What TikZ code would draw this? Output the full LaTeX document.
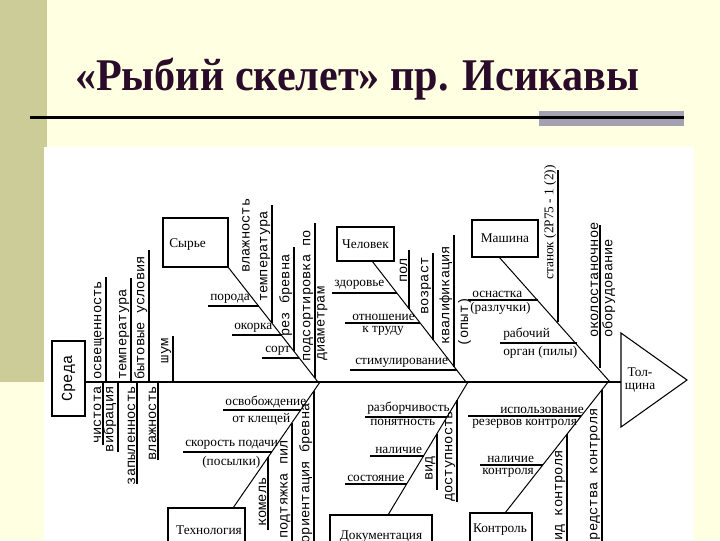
\documentclass[tikz,border=0pt]{standalone}
\usepackage{fontspec}
\setmainfont{Liberation Serif}
\newfontfamily\monof{Liberation Mono}
\definecolor{bgy}{RGB}{255,255,226}
\definecolor{khaki}{RGB}{204,204,153}
\definecolor{barg}{RGB}{163,161,178}
\definecolor{titc}{RGB}{42,12,42}
\begin{document}
\begin{tikzpicture}[x=0.75pt,y=-0.75pt,
  lbl/.style={font=\fontsize{10}{11}\selectfont, inner sep=0pt},
  vlbl/.style={font=\monof\fontsize{10.3}{11}\selectfont, inner sep=0pt, rotate=90},
  vser/.style={font=\fontsize{10}{11}\selectfont, inner sep=0pt, rotate=90},
  bone/.style={line width=0.75pt},
  sub/.style={line width=0.9pt},
  thsub/.style={line width=1.4pt},
  catbox/.style={draw, line width=0.9pt, fill=white, inner sep=0pt}
]
\useasboundingbox (0,0) rectangle (720,540);
\clip (0,0) rectangle (720,540);
\fill[bgy] (0,0) rectangle (720,540);
\fill[khaki] (0,0) rectangle (47,382);
\fill[white] (44,147) rectangle (694,540);
% title
\node[font=\bfseries\fontsize{34}{36}\selectfont, text=titc, anchor=base, inner sep=0pt, xscale=0.93] (title) at (357,90) {«Рыбий скелет» пр. Исикавы};
\fill[barg] (539,111) rectangle (684,126);
\draw[line width=2pt] (30,117.5) -- (684,117.5);

% spine and head
\coordinate (spL) at (85,382);
\coordinate (spR) at (621,382);
\draw[line width=2.2pt] (spL) -- (spR);
\draw[line width=0.8pt] (621,333) coordinate (h1) -- (687,380) coordinate (h2) -- (621,427) coordinate (h3) -- cycle;
\node[lbl] (tol) at (640,372) {Тол-};
\node[lbl] (sh) at (640,388) {щина};

% ===== Среда
\draw[catbox] (52,341) rectangle (85,416);
\node[vlbl, font=\monof\fontsize{11.5}{12}\selectfont] (sreda) at (68.5,378.5) {Среда};
\draw[sub] (106,277) -- (106,382);
\node[vlbl, anchor=south west] (s1) at (104.5,380) {освещенность};
\draw[sub] (131,278) -- (131,382);
\node[vlbl, anchor=south west] (s2) at (129.5,380) {температура};
\draw[sub] (149,250) -- (149,382);
\node[vlbl, anchor=south west] (s3) at (147.5,380) {бытовые условия};
\draw[sub] (173,336) -- (173,382);
\node[vlbl, anchor=south east] (s4) at (171.5,338) {шум};
\draw[sub] (103,382) -- (103,445);
\node[vlbl, anchor=south east] (s5) at (101.5,386) {чистота};
\draw[sub] (118,382) -- (118,452);
\node[vlbl, anchor=south east] (s6) at (116.5,386) {вибрация};
\draw[sub] (137,382) -- (137,484);
\node[vlbl, anchor=south east] (s7) at (135.5,386) {запыленность};
\draw[sub] (158,382) -- (158,460);
\node[vlbl, anchor=south east] (s8) at (156.5,386) {влажность};

% ===== Сырье
\draw[catbox] (163,218) rectangle (228,267);
\node[lbl, anchor=west] (syr) at (169,244) {Сырье};
\coordinate (syrJ) at (318,382);
\draw[bone] (228,267) -- (syrJ);
\draw[sub] (208,306) -- (259,306);
\node[lbl, anchor=south west] (r1) at (210,304) {порода};
\draw[sub] (232,335) -- (281.5,335);
\node[lbl, anchor=south west] (r2) at (234,333) {окорка};
\draw[sub] (262,358) -- (299,358);
\node[lbl, anchor=south west] (r3) at (265,356) {сорт};
\node[vlbl, anchor=south west] (r4) at (250,273) {влажность};
\draw[sub] (272,205) -- (272,323);
\node[vlbl, anchor=south west] (r5) at (270.5,302) {температура};
\draw[sub] (294,247) -- (294,351);
\node[vlbl, anchor=south west] (r6) at (292.5,337) {рез бревна};
\draw[sub] (315,223) -- (315,378);
\node[vlbl, anchor=south west] (r7) at (313.5,362) {подсортировка по};
\node[vlbl, anchor=north west] (r8) at (317,361) {диаметрам};

% ===== Человек
\draw[catbox] (337,227) rectangle (394,261);
\node[lbl] (chel) at (365.5,244) {Человек};
\coordinate (chJ) at (466,382);
\draw[bone] (372,261) -- (chJ);
\draw[thsub] (332,293) -- (397,293);
\node[lbl, anchor=south west] (c1) at (334,290) {здоровье};
\draw[sub] (345,323) -- (420,323);
\node[lbl, anchor=south west] (c2) at (352,321) {отношение};
\node[lbl, anchor=north west] (c3) at (362,326) {к труду};
\draw[sub] (350,370) -- (457,370);
\node[lbl, anchor=south west] (c4) at (355,368) {стимулирование};
\draw[sub] (409,250) -- (409,308.6);
\node[vlbl, anchor=south east] (c5) at (407.5,258) {пол};
\draw[sub] (433,253) -- (433,339.5);
\node[vlbl, anchor=south east] (c6) at (431.5,257) {возраст};
\draw[sub] (454,235) -- (454,366.5);
\node[vlbl, anchor=south west] (c7) at (452.5,345) {квалификация};
\node[vlbl, anchor=north west] (c8) at (458,347) {(опыт)};

% ===== Машина
\draw[catbox] (472,220) rectangle (538,257);
\node[lbl] (mash) at (505,238.5) {Машина};
\coordinate (maJ) at (610,382);
\draw[bone] (499,257) -- (maJ);
\draw[sub] (468,300) -- (538,300);
\node[lbl, anchor=south west] (m1) at (472,298) {оснастка};
\node[lbl, anchor=north west] (m2) at (470,302) {(разлучки)};
\draw[thsub] (500,343) -- (577,343);
\node[lbl, anchor=south west] (m3) at (503,341) {рабочий};
\node[lbl, anchor=north west] (m4) at (503,346) {орган (пилы)};
\draw[sub] (558,170) -- (558,322);
\node[vser, anchor=south west] (m5) at (556.5,280) {станок (2Р75 - 1 (2))};
\draw[sub] (600,225) -- (600,368);
\node[vlbl, anchor=south west] (m6) at (598.5,338) {околостаночное};
\node[vlbl, anchor=north west] (m7) at (602,338) {оборудование};

% ===== Технология
\draw[catbox] (168,508) rectangle (245,560);
\node[lbl] (tech) at (209,530) {Технология};
\coordinate (teJ) at (320,382);
\draw[bone] (teJ) -- (233,508);
\draw[sub] (223,410) -- (300.7,410);
\node[lbl, anchor=south west] (t1) at (225,408) {освобождение};
\node[lbl, anchor=north west] (t2) at (232,413) {от клещей};
\draw[sub] (183,452) -- (271.7,452);
\node[lbl, anchor=south west] (t3) at (185,450) {скорость подачи};
\node[lbl, anchor=north west] (t4) at (202,456) {(посылки)};
\draw[sub] (268,457) -- (268,530);
\node[vlbl, anchor=south west] (t5) at (266.5,527) {комель};
\draw[sub] (292,423) -- (292,545);
\node[vlbl, anchor=south west] (t6) at (290.5,539) {подтяжка пил};
\draw[sub] (314,391) -- (314,545);
\node[vlbl, anchor=south east] (t7) at (312.5,403) {ориентация бревна};

% ===== Документация
\draw[catbox] (330,515) rectangle (432,560);
\node[lbl] (doc) at (381,537) {Документация};
\coordinate (doJ) at (468,382);
\draw[bone] (doJ) -- (388,515);
\draw[sub] (365,417) -- (447,417);
\node[lbl, anchor=south west] (d1) at (367,415) {разборчивость};
\node[lbl, anchor=north west] (d2) at (370,419) {понятность};
\draw[thsub] (370,456) -- (423.6,456);
\node[lbl, anchor=south west] (d3) at (375,454) {наличие};
\draw[sub] (345,484) -- (406.6,484);
\node[lbl, anchor=south west] (d4) at (347,482) {состояние};
\draw[sub] (437,433.7) -- (437,490);
\node[vlbl, anchor=south west] (d5) at (435.5,481) {вид};
\draw[sub] (457,400) -- (457,502);
\node[vlbl, anchor=south west] (d6) at (455.5,502) {доступность};

% ===== Контроль
\draw[catbox] (470,513) rectangle (532,560);
\node[lbl] (kon) at (500,530) {Контроль};
\coordinate (koJ) at (608,382);
\draw[bone] (koJ) -- (505,513);
\draw[sub] (468,416) -- (581,416);
\node[lbl, anchor=south west] (k1) at (500,414) {использование};
\node[lbl, anchor=north west] (k2) at (472,419) {резервов контроля};
\draw[sub] (480,465) -- (543,465);
\node[lbl, anchor=south west] (k3) at (487,463) {наличие};
\node[lbl, anchor=north west] (k4) at (482,468) {контроля};
\draw[sub] (567,434) -- (567,545);
\node[vlbl, anchor=south east] (k5) at (565.5,450) {вид контроля};
\draw[sub] (602,390) -- (602,545);
\node[vlbl, anchor=south east] (k6) at (600.5,408) {средства контроля};
\end{tikzpicture}
\end{document}
